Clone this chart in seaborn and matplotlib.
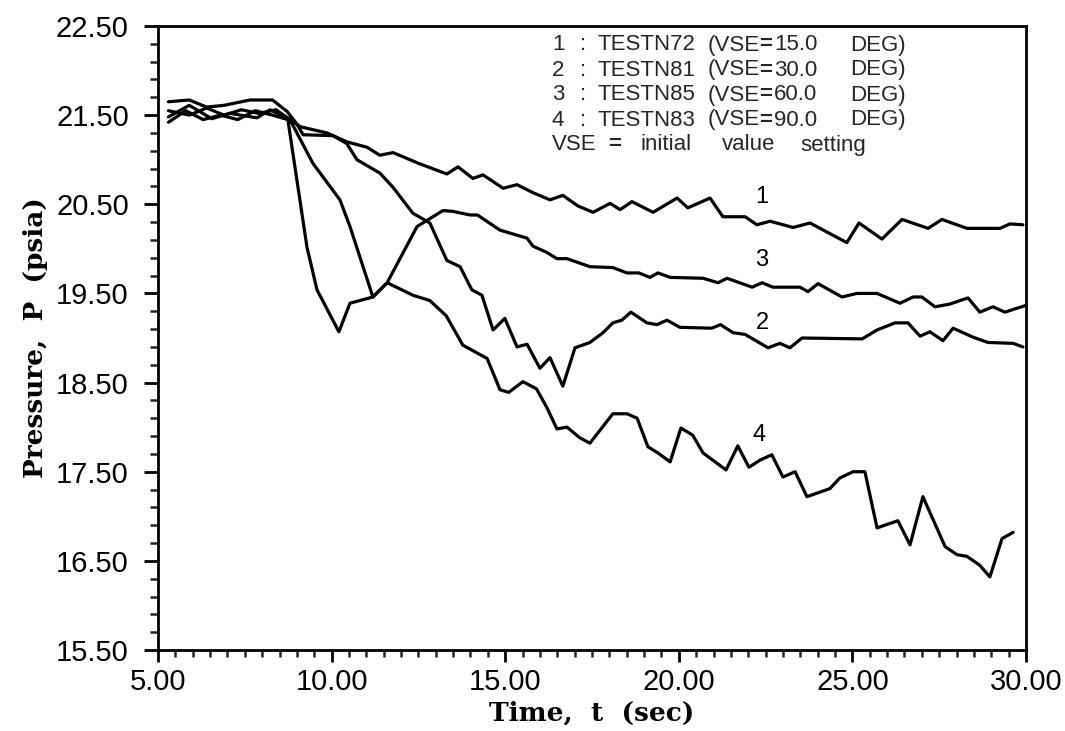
import numpy as np
import pandas as pd
import matplotlib
matplotlib.use("Agg")
import matplotlib.pyplot as plt
import seaborn as sns

# ---------------- data ----------------
t1 = [5.3, 5.9, 6.4, 6.9, 7.4, 7.9, 8.4, 8.8, 9.1, 9.87, 10.44, 11.02, 11.39, 11.77, 12.5,
      13.32, 13.64, 14.07, 14.36, 14.94, 15.34, 15.8, 16.29, 16.66, 17.1, 17.53, 18.02,
      18.31, 18.65, 19.26, 19.95, 20.26, 20.9, 21.27, 21.91, 22.25, 22.63, 23.29, 23.78,
      24.84, 25.19, 25.85, 26.43, 27.18, 27.58, 28.3, 29.25, 29.54, 29.91]
p1 = [21.55, 21.50, 21.58, 21.50, 21.56, 21.52, 21.56, 21.45, 21.37, 21.30, 21.20, 21.14,
      21.05, 21.08, 20.96, 20.84, 20.92, 20.79, 20.83, 20.68, 20.72, 20.63, 20.55, 20.60,
      20.48, 20.41, 20.51, 20.44, 20.53, 20.41, 20.57, 20.46, 20.57, 20.36, 20.36, 20.27,
      20.31, 20.24, 20.29, 20.07, 20.29, 20.11, 20.33, 20.23, 20.33, 20.23, 20.23, 20.28,
      20.27]

t2 = [5.3, 5.9, 6.4, 6.9, 7.65, 8.3, 8.72, 9.0, 9.18, 10.04, 10.44, 10.73, 11.39, 11.77,
      12.34, 12.83, 13.32, 13.7, 14.04, 14.33, 14.65, 14.99, 15.34, 15.63, 16.0, 16.29,
      16.66, 17.01, 17.44, 17.82, 18.1, 18.36, 18.62, 19.08, 19.37, 19.66, 20.03, 20.95,
      21.2, 21.56, 21.91, 22.57, 22.91, 23.2, 23.55, 25.28, 25.71, 26.23, 26.6, 26.95,
      27.23, 27.61, 27.9, 28.47, 28.9, 29.63, 29.91]
p2 = [21.65, 21.67, 21.59, 21.61, 21.67, 21.67, 21.54, 21.40, 21.28, 21.27, 21.18, 21.00,
      20.85, 20.69, 20.40, 20.29, 19.87, 19.80, 19.54, 19.48, 19.09, 19.22, 18.90, 18.93,
      18.66, 18.78, 18.46, 18.89, 18.95, 19.06, 19.17, 19.20, 19.29, 19.17, 19.15, 19.20,
      19.12, 19.11, 19.15, 19.06, 19.04, 18.89, 18.94, 18.89, 19.00, 18.99, 19.09, 19.17,
      19.17, 19.02, 19.07, 18.97, 19.11, 19.01, 18.95, 18.94, 18.90]

t3 = [5.3, 5.9, 6.55, 7.07, 7.85, 8.23, 8.8, 9.46, 10.24, 10.53, 11.19, 11.6, 12.46, 13.21,
      13.5, 13.99, 14.2, 14.85, 15.63, 15.8, 16.2, 16.49, 16.78, 17.44, 18.1, 18.51, 18.85,
      19.17, 19.4, 19.75, 20.7, 21.13, 21.39, 22.11, 22.4, 22.71, 23.49, 23.72, 24.01, 24.7,
      25.13, 25.71, 26.37, 26.75, 27.0, 27.38, 27.8, 28.33, 28.67, 29.05, 29.39, 30.03]
p3 = [21.48, 21.61, 21.46, 21.52, 21.47, 21.56, 21.45, 20.96, 20.55, 20.25, 19.46, 19.62,
      20.25, 20.43, 20.42, 20.38, 20.38, 20.21, 20.12, 20.03, 19.96, 19.89, 19.89, 19.80,
      19.79, 19.73, 19.73, 19.68, 19.73, 19.68, 19.67, 19.62, 19.67, 19.57, 19.62, 19.57,
      19.57, 19.52, 19.61, 19.46, 19.50, 19.50, 19.39, 19.46, 19.46, 19.35, 19.38, 19.45,
      19.29, 19.35, 19.29, 19.37]

t4 = [5.3, 5.8, 6.3, 6.8, 7.3, 7.8, 8.3, 8.74, 9.29, 9.58, 10.21, 10.53, 11.19, 11.6, 12.34,
      12.83, 13.3, 13.78, 14.48, 14.85, 15.1, 15.51, 15.9, 16.2, 16.49, 16.78, 17.15, 17.44,
      18.1, 18.51, 18.8, 19.11, 19.4, 19.75, 20.06, 20.4, 20.7, 21.36, 21.7, 22.02, 22.34,
      22.68, 23.0, 23.35, 23.69, 24.35, 24.64, 25.02, 25.36, 25.71, 26.31, 26.66, 27.03,
      27.67, 28.01, 28.3, 28.67, 28.96, 29.31, 29.63]
p4 = [21.42, 21.55, 21.45, 21.50, 21.45, 21.55, 21.50, 21.45, 20.02, 19.54, 19.07, 19.39,
      19.46, 19.62, 19.48, 19.42, 19.25, 18.92, 18.77, 18.42, 18.39, 18.51, 18.43, 18.22,
      17.98, 18.00, 17.88, 17.82, 18.15, 18.15, 18.10, 17.78, 17.71, 17.61, 17.99, 17.91,
      17.71, 17.52, 17.79, 17.55, 17.63, 17.69, 17.44, 17.50, 17.22, 17.31, 17.43, 17.50,
      17.50, 16.87, 16.95, 16.68, 17.22, 16.66, 16.57, 16.55, 16.45, 16.32, 16.75, 16.82]

curve_ids = ["1", "2", "3", "4"]
test_names = ["TESTN72", "TESTN81", "TESTN85", "TESTN83"]
vse_values = ["15.0", "30.0", "60.0", "90.0"]
label_pos_t = [22.4, 22.4, 22.4, 22.3]
label_pos_p = [20.58, 19.17, 19.88, 17.91]

x_ticks = [5, 10, 15, 20, 25, 30]
x_minor = np.arange(5, 30.01, 0.5)
y_ticks = [15.5, 16.5, 17.5, 18.5, 19.5, 20.5, 21.5, 22.5]
y_minor = np.arange(15.5, 22.51, 0.2)

frames = []
for cid, t, p in zip(curve_ids, [t1, t2, t3, t4], [p1, p2, p3, p4]):
    frames.append(pd.DataFrame({"t": t, "p": p, "curve": cid}))
df = pd.concat(frames, ignore_index=True)

# ---------------- plot ----------------
sns.set_theme(style="ticks")
plt.rcParams["font.family"] = ["Liberation Sans", "DejaVu Sans"]

W, H = 1065, 731
fig = plt.figure(figsize=(W / 100, H / 100), dpi=100)
L, R, T, B = 158, 1026, 26, 650
ax = fig.add_axes([L / W, 1 - B / H, (R - L) / W, (B - T) / H])

sns.lineplot(data=df, x="t", y="p", hue="curve", palette=["black"] * 4,
             legend=False, linewidth=2.3, estimator=None, sort=False, ax=ax)

ax.set_xlim(5, 30)
ax.set_ylim(15.5, 22.5)
ax.set_xticks(x_ticks)
ax.set_xticks(x_minor, minor=True)
ax.set_yticks(y_ticks)
ax.set_yticks(y_minor, minor=True)
ax.set_xticklabels([f"{v:.2f}" for v in x_ticks])
ax.set_yticklabels([f"{v:.2f}" for v in y_ticks])

for s in ax.spines.values():
    s.set_linewidth(2.0)
    s.set_color("black")

ax.tick_params(axis="y", which="major", direction="out", length=10, width=2,
               pad=11, labelsize=21, colors="black", right=False)
ax.tick_params(axis="y", which="minor", direction="out", length=6, width=1.8,
               right=False, left=True)
ax.tick_params(axis="x", which="major", direction="out", length=8.6, width=2,
               pad=4, labelsize=21, colors="black", top=False)
ax.tick_params(axis="x", which="minor", direction="out", length=5, width=1.8,
               top=False, bottom=True)

ax.set_xlabel("Time,  t  (sec)", family="DejaVu Serif", fontweight="bold",
              fontsize=19, labelpad=4, color="black")
ax.set_ylabel("Pressure,  P  (psia)", family="DejaVu Serif", fontweight="bold",
              fontsize=19, labelpad=6, color="black")

# curve labels
for cid, tt, pp in zip(curve_ids, label_pos_t, label_pos_p):
    ax.text(tt, pp, cid, ha="center", va="center", fontsize=17, color="black")

# legend text block (figure pixel positions)
fs = 16
rows_y = [45, 70, 95, 120]
for cid, name, vse, y in zip(curve_ids, test_names, vse_values, rows_y):
    yy = 1 - y / H
    fig.text(552 / W, yy, cid, fontsize=fs, va="center")
    fig.text(580 / W, yy, ":", fontsize=fs, va="center")
    fig.text(598 / W, yy, name, fontsize=fs, va="center")
    fig.text(708 / W, yy, "(VSE", fontsize=fs, va="center")
    fig.text(759 / W, yy, "=", fontsize=fs, va="center", fontweight="bold")
    fig.text(774 / W, yy, vse, fontsize=fs, va="center")
    fig.text(850 / W, yy, "DEG)", fontsize=fs, va="center")
yy = 1 - 145 / H
fig.text(552 / W, yy, "VSE", fontsize=fs, va="center")
fig.text(608 / W, yy, "=", fontsize=fs, va="center", fontweight="bold")
fig.text(640 / W, yy, "initial", fontsize=fs, va="center")
fig.text(722 / W, yy, "value", fontsize=fs, va="center")
fig.text(800 / W, yy, "setting", fontsize=fs, va="center")

fig.savefig("out.png", dpi=100)
